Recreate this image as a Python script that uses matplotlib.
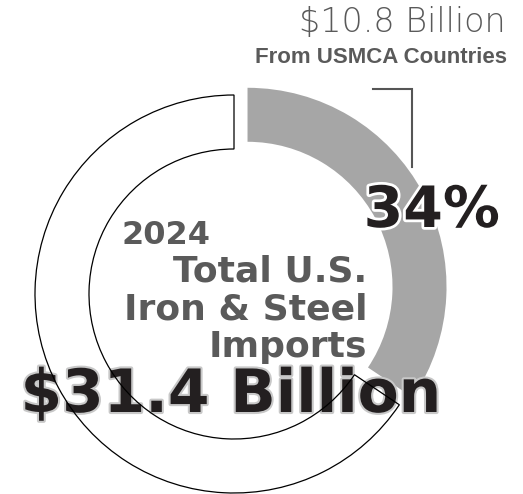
import matplotlib
matplotlib.use("Agg")
import matplotlib.pyplot as plt
import matplotlib.patheffects as pe

# 2024 U.S. iron & steel imports, billions of dollars
total_imports = 31.4
usmca_imports = 10.8
segments = [usmca_imports, total_imports - usmca_imports]
segment_colors = ["#a6a6a6", "white"]
share_pct = round(100 * usmca_imports / total_imports)

title_lines = ["Total U.S.", "Iron & Steel", "Imports"]
year_label = "2024"

W, H = 523, 494
fig = plt.figure(figsize=(W / 100, H / 100), dpi=100)
ax = fig.add_axes([0, 0, 1, 1])
ax.set_xlim(0, W)
ax.set_ylim(0, H)
ax.set_aspect("equal")
ax.axis("off")

center = (234, 200)
radius = 199
ring = 54

wedges, _ = ax.pie(segments, colors=segment_colors, startangle=90,
                   counterclock=False, center=center, radius=radius,
                   explode=[0.077 * radius, 0],
                   wedgeprops=dict(width=ring, linewidth=0), frame=True)
ax.set_xlim(0, W)
ax.set_ylim(0, H)
ax.axis("off")

# outline of the remaining share, drawn over the text later
outline, _ = ax.pie(segments, colors=["none", "none"], startangle=90,
                    counterclock=False, center=center, radius=radius,
                    explode=[0.077 * radius, 0],
                    wedgeprops=dict(width=ring, linewidth=0.9), frame=True)
outline[0].set_edgecolor("none")
outline[1].set_edgecolor("black")
outline[1].set_zorder(5)
ax.set_xlim(0, W)
ax.set_ylim(0, H)
ax.axis("off")

gray_txt = "#5a5a5a"

# callout for the USMCA share
ax.plot([373, 412, 412], [405, 405, 327], color="#555555", lw=1.5,
        solid_joinstyle="miter", zorder=3)
ax.text(506, 462, f"${usmca_imports} Billion", ha="right", va="baseline",
        fontsize=24, color=gray_txt, family="DejaVu Sans", weight="light")
ax.text(507, 431, "From USMCA Countries", ha="right", va="baseline",
        fontsize=16, color=gray_txt, family="Liberation Sans", weight="bold")

ax.text(500, 267, f"{share_pct}%", ha="right", va="baseline", fontsize=41,
        color="#231f20", family="DejaVu Sans", weight="bold", zorder=4,
        path_effects=[pe.withStroke(linewidth=4, foreground="white")])

ax.text(122, 250, year_label, ha="left", va="baseline", fontsize=23,
        color=gray_txt, family="DejaVu Sans", weight="bold", zorder=4)
for i, line in enumerate(title_lines):
    ax.text(367, 213 - 38 * i, line, ha="right", va="baseline", fontsize=26,
            color=gray_txt, family="DejaVu Sans", weight="bold", zorder=4)

ax.text(231, 82, f"${total_imports} Billion", ha="center", va="baseline",
        fontsize=43, color="#231f20", family="DejaVu Sans", weight="bold",
        zorder=4,
        path_effects=[pe.withStroke(linewidth=3, foreground="#c8c8c8")])

fig.savefig("out.png", dpi=100)
